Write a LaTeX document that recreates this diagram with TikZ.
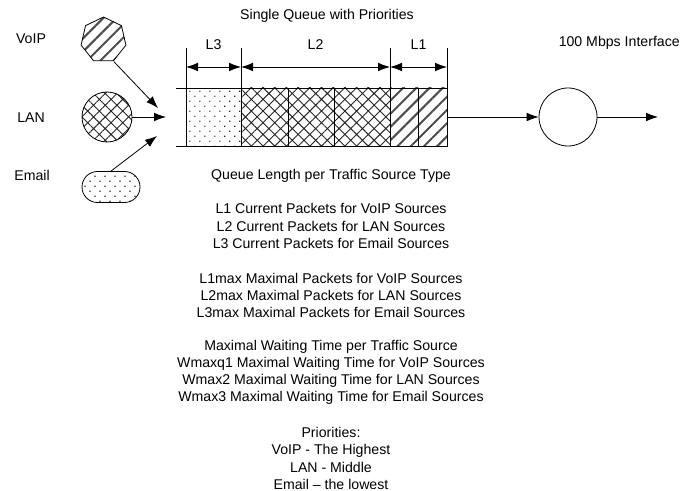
\documentclass[tikz,border=0pt]{standalone}
\usepackage{fontspec}
\setmainfont{Liberation Sans}
\usetikzlibrary{shapes.geometric, patterns.meta, arrows.meta}
\begin{document}
\begin{tikzpicture}[x=0.75pt, y=-0.75pt,
  every node/.style={font=\fontsize{10.6}{12.9}\selectfont},
  ln/.style={line width=0.6pt},
  arr/.style={ln, -{Latex[length=9pt,width=6.5pt]}},
  darr/.style={ln, {Latex[length=9pt,width=6.5pt]}-{Latex[length=9pt,width=6.5pt]}},
  stripes/.style={pattern={Lines[angle=45,distance=7pt,line width=1.5pt]}, pattern color=black!70},
  hatch/.style={pattern={Hatch[angle=45,distance=6.2pt,line width=0.7pt]}, pattern color=black!85},
  dotsfill/.style={pattern={Dots[angle=45,distance=5.3pt,radius=0.65pt]}, pattern color=black!85},
  cell/.style={draw, ln, inner sep=0, outer sep=0, minimum height=43.5pt, anchor=north west},
  txt/.style={align=center, inner sep=0},
]
\useasboundingbox (0,0) rectangle (680,491);

% sources
\node[draw, ln, stripes, regular polygon, regular polygon sides=7, minimum size=34.5pt, inner sep=0] (voip) at (103.5,40) {};
\node[draw, ln, hatch, circle, minimum size=37.5pt, inner sep=0] (lan) at (107,117) {};
\node[draw, ln, dotsfill, rectangle, rounded corners=11.6pt, minimum width=43.5pt, minimum height=23.25pt, inner sep=0] (email) at (111,187) {};

\node (voipl) at (31,39) {VoIP};
\node (lanl) at (31,118) {LAN};
\node (emaill) at (32,175) {Email};

\coordinate (inv) at (158,108);
\coordinate (inl) at (166,117);
\coordinate (ine) at (157,136);
\draw[arr] (voip.corner 5) -- (inv);
\draw[arr] (lan.east) -- (inl);
\draw[arr] (email.north) -- (ine);

% queue cells
\node[cell, dotsfill, minimum width=41.25pt] (c1) at (186,88) {};
\node[cell, hatch, minimum width=35.25pt] (c2) at (c1.north east) {};
\node[cell, hatch, minimum width=34.5pt] (c3) at (c2.north east) {};
\node[cell, hatch, minimum width=42pt] (c4) at (c3.north east) {};
\node[cell, stripes, minimum width=21pt] (c5) at (c4.north east) {};
\node[cell, stripes, minimum width=21.75pt] (c6) at (c5.north east) {};
\coordinate (qtl) at (176,88);
\coordinate (qbl) at (176,146);
\draw[ln] (qtl) -- (c1.north west);
\draw[ln] (qbl) -- (c1.south west);

% dimension lines
\coordinate (t1) at (c1.north west |- 0,48);
\coordinate (t2) at (c1.north east |- 0,48);
\coordinate (t3) at (c4.north east |- 0,48);
\coordinate (t4) at (c6.north east |- 0,48);
\draw[ln] (c1.north west) -- (t1);
\draw[ln] (c1.north east) -- (t2);
\draw[ln] (c4.north east) -- (t3);
\draw[ln] (c6.north east) -- (t4);
\coordinate (a1) at (c1.north west |- 0,67);
\coordinate (a2) at (c1.north east |- 0,67);
\coordinate (a3) at (c4.north east |- 0,67);
\coordinate (a4) at (c6.north east |- 0,67);
\draw[darr] (a1) -- (a2);
\draw[darr] (a2) -- (a3);
\draw[darr] (a3) -- (a4);
\node (l3) at (213.5,45) {L3};
\node (l2) at (315.5,45) {L2};
\node (l1) at (418.5,45) {L1};

% server
\node[draw, ln, circle, minimum size=43.5pt, inner sep=0] (srv) at (568,117) {};
\coordinate (out) at (658,117);
\draw[arr] (c6.east) -- (srv);
\draw[arr] (srv) -- (out);

\node (title) at (327,16) {Single Queue with Priorities};
\node[anchor=east, inner sep=0] (iface) at (680,43) {100 Mbps Interface};

% texts
\node[txt] (g1) at (331,176) {Queue Length per Traffic Source Type};
\node[txt] (g2) at (331,226) {L1 Current Packets for VoIP Sources\\L2 Current Packets for LAN Sources\\L3 Current Packets for Email Sources};
\node[txt] (g3) at (331,295.5) {L1max Maximal Packets for VoIP Sources\\L2max Maximal Packets for LAN Sources\\L3max Maximal Packets for Email Sources};
\node[txt] (g4) at (331,372.5) {Maximal Waiting Time per Traffic Source\\Wmaxq1 Maximal Waiting Time for VoIP Sources\\Wmax2 Maximal Waiting Time for LAN Sources\\Wmax3 Maximal Waiting Time for Email Sources};
\node[txt] (g5) at (331,458.5) {Priorities:\\VoIP - The Highest\\LAN - Middle\\Email -- the lowest};
\end{tikzpicture}
\end{document}
